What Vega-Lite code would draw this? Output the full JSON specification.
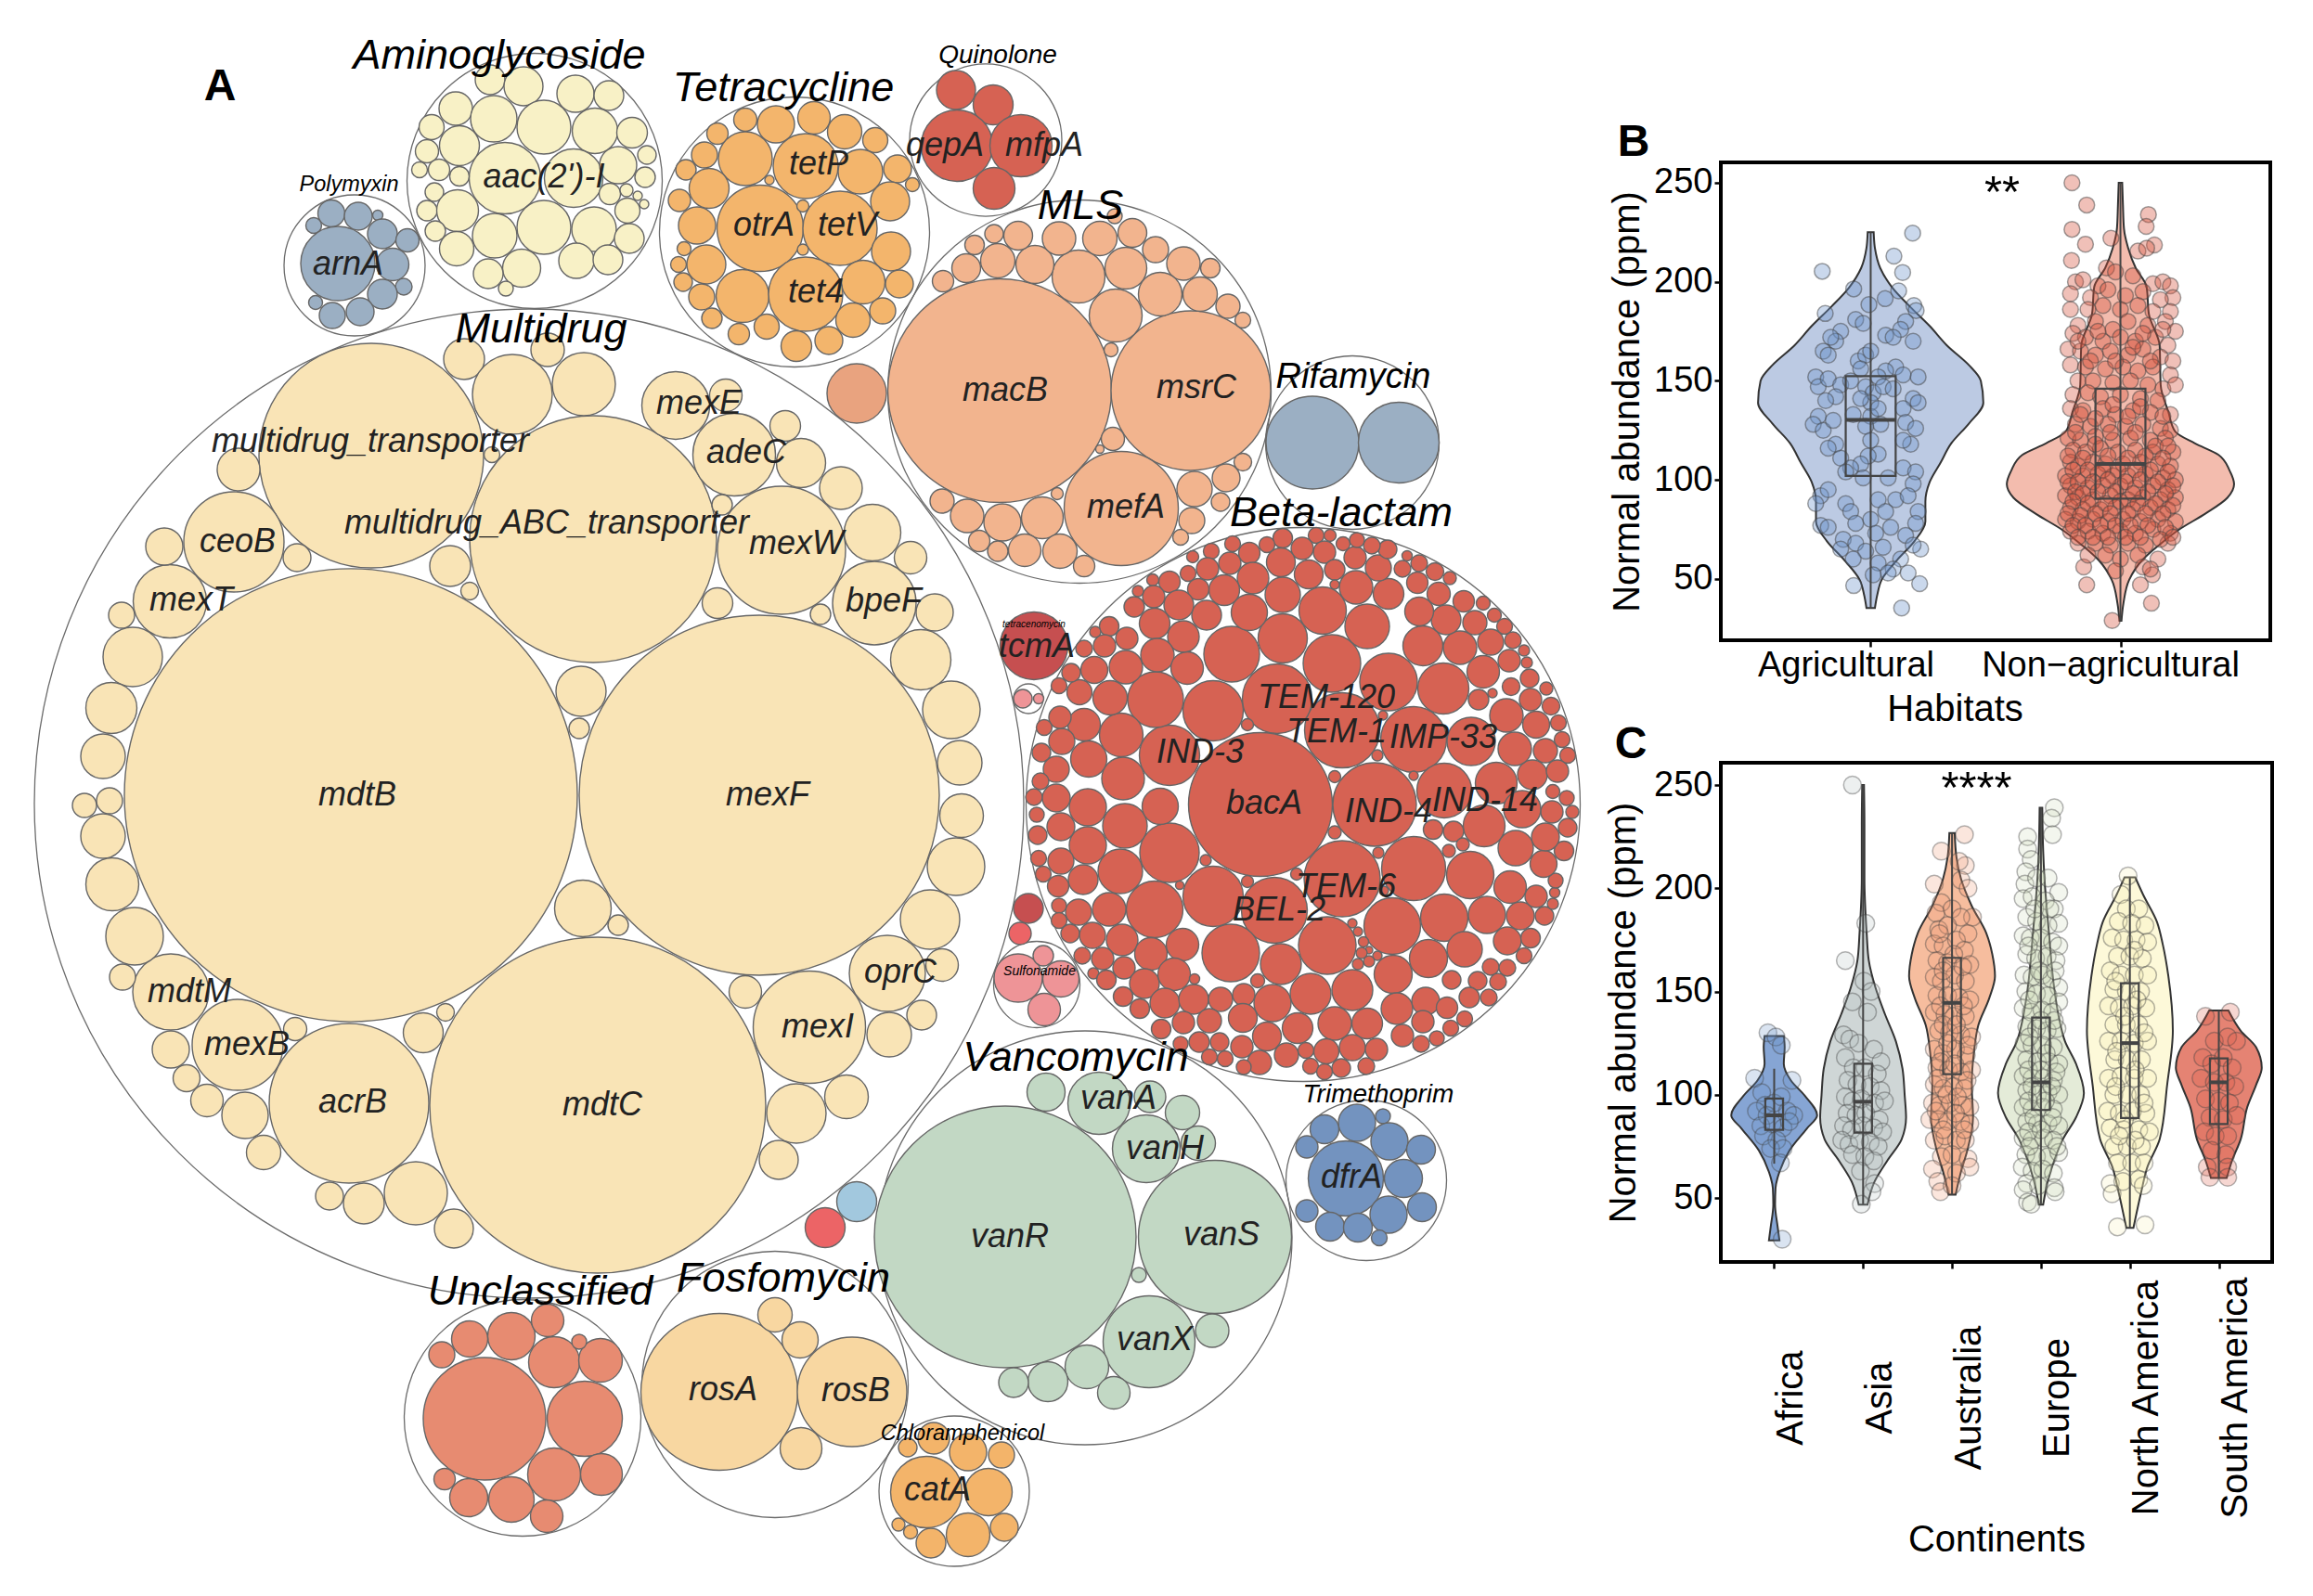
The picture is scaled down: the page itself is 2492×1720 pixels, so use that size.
{"$schema":"https://vega.github.io/schema/vega-lite/v6.json","padding":0,"background":"white","bounds":"flush","spacing":0,"config":{"font":"Liberation Sans","view":{"stroke":null},"axis":{"labelFont":"Liberation Sans","titleFont":"Liberation Sans"}},
"datasets":{
"outer":[{"x":570,"y":866,"d":1066},{"x":1404,"y":867,"d":597},{"x":576,"y":195,"d":275},{"x":382,"y":286,"d":152},{"x":856,"y":250,"d":291},{"x":1062,"y":151,"d":164},{"x":1163,"y":422,"d":413},{"x":1457,"y":477,"d":187},{"x":1169,"y":1334,"d":446},{"x":563,"y":1528,"d":255},{"x":835,"y":1492,"d":287},{"x":1028,"y":1607,"d":162},{"x":1472,"y":1272,"d":173},{"x":1108,"y":753,"d":32},{"x":1117,"y":1061,"d":93}],
"circles":[
{"x":378,"y":857,"d":488,"g":"M"},{"x":818,"y":857,"d":388,"g":"M"},{"x":644,"y":1191,"d":362,"g":"M"},{"x":639,"y":581,"d":266,"g":"M"},{"x":400,"y":491,"d":242,"g":"M"},{"x":376,"y":1189,"d":172,"g":"M"},{"x":256,"y":1126,"d":98,"g":"M"},{"x":184,"y":1069,"d":82,"g":"M"},{"x":252,"y":584,"d":108,"g":"M"},{"x":183,"y":648,"d":79,"g":"M"},{"x":842,"y":593,"d":138,"g":"M"},{"x":728,"y":437,"d":73,"g":"M"},{"x":791,"y":490,"d":89,"g":"M"},{"x":942,"y":650,"d":90,"g":"M"},{"x":956,"y":1049,"d":82,"g":"M"},{"x":872,"y":1107,"d":121,"g":"M"},
{"x":500,"y":387,"d":44,"g":"M"},{"x":552,"y":425,"d":86,"g":"M"},{"x":629,"y":414,"d":68,"g":"M"},{"x":590,"y":377,"d":36,"g":"M"},{"x":257,"y":506,"d":46,"g":"M"},{"x":782,"y":426,"d":35,"g":"M"},{"x":846,"y":459,"d":33,"g":"M"},{"x":863,"y":499,"d":53,"g":"M"},{"x":906,"y":526,"d":46,"g":"M"},{"x":778,"y":544,"d":22,"g":"M"},{"x":940,"y":574,"d":61,"g":"M"},{"x":981,"y":601,"d":35,"g":"M"},{"x":773,"y":650,"d":33,"g":"M"},{"x":884,"y":662,"d":22,"g":"M"},{"x":1007,"y":660,"d":40,"g":"M"},{"x":992,"y":711,"d":65,"g":"M"},{"x":1025,"y":765,"d":62,"g":"M"},{"x":1034,"y":822,"d":48,"g":"M"},{"x":1036,"y":879,"d":47,"g":"M"},{"x":1030,"y":934,"d":62,"g":"M"},{"x":1002,"y":991,"d":64,"g":"M"},{"x":1015,"y":1040,"d":35,"g":"M"},{"x":993,"y":1094,"d":32,"g":"M"},{"x":958,"y":1115,"d":48,"g":"M"},{"x":912,"y":1182,"d":47,"g":"M"},{"x":858,"y":1200,"d":64,"g":"M"},{"x":839,"y":1250,"d":42,"g":"M"},{"x":803,"y":1069,"d":35,"g":"M"},{"x":626,"y":745,"d":54,"g":"M"},{"x":624,"y":785,"d":22,"g":"M"},{"x":628,"y":979,"d":61,"g":"M"},{"x":666,"y":997,"d":22,"g":"M"},{"x":485,"y":610,"d":44,"g":"M"},{"x":506,"y":637,"d":19,"g":"M"},{"x":320,"y":601,"d":30,"g":"M"},{"x":177,"y":589,"d":40,"g":"M"},{"x":131,"y":663,"d":28,"g":"M"},{"x":143,"y":708,"d":64,"g":"M"},{"x":120,"y":763,"d":55,"g":"M"},{"x":111,"y":815,"d":48,"g":"M"},{"x":118,"y":863,"d":28,"g":"M"},{"x":91,"y":868,"d":26,"g":"M"},{"x":111,"y":901,"d":48,"g":"M"},{"x":121,"y":953,"d":57,"g":"M"},{"x":145,"y":1009,"d":62,"g":"M"},{"x":132,"y":1053,"d":28,"g":"M"},{"x":184,"y":1131,"d":40,"g":"M"},{"x":201,"y":1162,"d":29,"g":"M"},{"x":223,"y":1186,"d":35,"g":"M"},{"x":264,"y":1202,"d":50,"g":"M"},{"x":284,"y":1242,"d":37,"g":"M"},{"x":318,"y":1109,"d":25,"g":"M"},{"x":456,"y":1113,"d":43,"g":"M"},{"x":480,"y":1091,"d":19,"g":"M"},{"x":355,"y":1289,"d":30,"g":"M"},{"x":392,"y":1297,"d":44,"g":"M"},{"x":448,"y":1286,"d":68,"g":"M"},{"x":489,"y":1324,"d":42,"g":"M"},{"x":530,"y":490,"d":17,"g":"M"},
{"x":923,"y":424,"d":64,"g":"O"},{"x":923,"y":1295,"d":43,"g":"A"},{"x":889,"y":1323,"d":43,"g":"E"},
{"x":1358,"y":867,"d":155,"g":"B"},{"x":1481,"y":867,"d":90,"g":"B"},{"x":1446,"y":787,"d":81,"g":"B"},{"x":1376,"y":753,"d":75,"g":"B"},{"x":1523,"y":797,"d":71,"g":"B"},{"x":1260,"y":814,"d":65,"g":"B"},{"x":1373,"y":981,"d":71,"g":"B"},{"x":1446,"y":947,"d":82,"g":"B"},{"x":1556,"y":852,"d":59,"g":"B"},{"x":1307,"y":766,"d":65,"g":"B"},{"x":1245,"y":754,"d":60,"g":"B"},{"x":1327,"y":705,"d":60,"g":"B"},{"x":1382,"y":688,"d":53,"g":"B"},{"x":1435,"y":715,"d":62,"g":"B"},{"x":1425,"y":658,"d":51,"g":"B"},{"x":1473,"y":675,"d":48,"g":"B"},{"x":1496,"y":735,"d":62,"g":"B"},{"x":1555,"y":742,"d":55,"g":"B"},{"x":1533,"y":696,"d":43,"g":"B"},{"x":1573,"y":698,"d":36,"g":"B"},{"x":1585,"y":799,"d":52,"g":"B"},{"x":1612,"y":844,"d":45,"g":"B"},{"x":1599,"y":890,"d":45,"g":"B"},{"x":1523,"y":936,"d":69,"g":"B"},{"x":1584,"y":943,"d":51,"g":"B"},{"x":1500,"y":998,"d":61,"g":"B"},{"x":1556,"y":989,"d":51,"g":"B"},{"x":1602,"y":986,"d":40,"g":"B"},{"x":1627,"y":956,"d":35,"g":"B"},{"x":1430,"y":1019,"d":62,"g":"B"},{"x":1326,"y":1027,"d":62,"g":"B"},{"x":1380,"y":1039,"d":44,"g":"B"},{"x":1307,"y":966,"d":65,"g":"B"},{"x":1244,"y":980,"d":61,"g":"B"},{"x":1207,"y":939,"d":48,"g":"B"},{"x":1260,"y":919,"d":64,"g":"B"},{"x":1212,"y":890,"d":48,"g":"B"},{"x":1172,"y":911,"d":40,"g":"B"},{"x":1172,"y":870,"d":40,"g":"B"},{"x":1250,"y":869,"d":39,"g":"B"},{"x":1210,"y":839,"d":46,"g":"B"},{"x":1208,"y":792,"d":47,"g":"B"},{"x":1173,"y":818,"d":39,"g":"B"},{"x":1168,"y":781,"d":35,"g":"B"},{"x":1196,"y":752,"d":37,"g":"B"},{"x":1163,"y":746,"d":27,"g":"B"},{"x":1138,"y":829,"d":28,"g":"B"},{"x":1144,"y":799,"d":28,"g":"B"},{"x":1142,"y":773,"d":24,"g":"B"},{"x":1125,"y":784,"d":17,"g":"B"},{"x":1122,"y":811,"d":20,"g":"B"},{"x":1121,"y":842,"d":18,"g":"B"},{"x":1114,"y":859,"d":18,"g":"B"},{"x":1138,"y":860,"d":30,"g":"B"},{"x":1117,"y":878,"d":16,"g":"B"},{"x":1143,"y":891,"d":30,"g":"B"},{"x":1118,"y":900,"d":20,"g":"B"},{"x":1143,"y":928,"d":28,"g":"B"},{"x":1119,"y":925,"d":17,"g":"B"},{"x":1124,"y":942,"d":17,"g":"B"},{"x":1167,"y":948,"d":32,"g":"B"},{"x":1140,"y":955,"d":23,"g":"B"},{"x":1141,"y":976,"d":16,"g":"B"},{"x":1162,"y":983,"d":28,"g":"B"},{"x":1195,"y":980,"d":36,"g":"B"},{"x":1141,"y":992,"d":17,"g":"B"},{"x":1153,"y":1006,"d":20,"g":"B"},{"x":1177,"y":1008,"d":28,"g":"B"},{"x":1209,"y":1013,"d":34,"g":"B"},{"x":1166,"y":1030,"d":18,"g":"B"},{"x":1188,"y":1033,"d":24,"g":"B"},{"x":1240,"y":1028,"d":35,"g":"B"},{"x":1274,"y":1018,"d":35,"g":"B"},{"x":1211,"y":1043,"d":24,"g":"B"},{"x":1178,"y":1049,"d":12,"g":"B"},{"x":1192,"y":1056,"d":21,"g":"B"},{"x":1233,"y":1060,"d":32,"g":"B"},{"x":1265,"y":1050,"d":35,"g":"B"},{"x":1287,"y":1055,"d":11,"g":"B"},{"x":1210,"y":1074,"d":21,"g":"B"},{"x":1228,"y":1087,"d":21,"g":"B"},{"x":1255,"y":1081,"d":32,"g":"B"},{"x":1286,"y":1077,"d":32,"g":"B"},{"x":1315,"y":1077,"d":26,"g":"B"},{"x":1340,"y":1072,"d":24,"g":"B"},{"x":1355,"y":1057,"d":15,"g":"B"},{"x":1371,"y":1081,"d":40,"g":"B"},{"x":1412,"y":1071,"d":44,"g":"B"},{"x":1457,"y":1067,"d":44,"g":"B"},{"x":1501,"y":1050,"d":41,"g":"B"},{"x":1539,"y":1033,"d":41,"g":"B"},{"x":1578,"y":1023,"d":38,"g":"B"},{"x":1536,"y":1079,"d":30,"g":"B"},{"x":1505,"y":1087,"d":34,"g":"B"},{"x":1564,"y":1056,"d":20,"g":"B"},{"x":1592,"y":1057,"d":20,"g":"B"},{"x":1606,"y":1042,"d":18,"g":"B"},{"x":1624,"y":1043,"d":18,"g":"B"},{"x":1614,"y":1058,"d":18,"g":"B"},{"x":1604,"y":1075,"d":18,"g":"B"},{"x":1583,"y":1075,"d":22,"g":"B"},{"x":1559,"y":1086,"d":23,"g":"B"},{"x":1578,"y":1098,"d":17,"g":"B"},{"x":1563,"y":1108,"d":17,"g":"B"},{"x":1533,"y":1101,"d":24,"g":"B"},{"x":1548,"y":1119,"d":16,"g":"B"},{"x":1531,"y":1125,"d":18,"g":"B"},{"x":1511,"y":1116,"d":24,"g":"B"},{"x":1473,"y":1103,"d":33,"g":"B"},{"x":1438,"y":1103,"d":36,"g":"B"},{"x":1398,"y":1108,"d":33,"g":"B"},{"x":1365,"y":1117,"d":31,"g":"B"},{"x":1339,"y":1097,"d":31,"g":"B"},{"x":1303,"y":1100,"d":26,"g":"B"},{"x":1275,"y":1102,"d":24,"g":"B"},{"x":1251,"y":1109,"d":21,"g":"B"},{"x":1272,"y":1125,"d":16,"g":"B"},{"x":1292,"y":1123,"d":22,"g":"B"},{"x":1314,"y":1123,"d":20,"g":"B"},{"x":1338,"y":1128,"d":24,"g":"B"},{"x":1303,"y":1139,"d":17,"g":"B"},{"x":1320,"y":1141,"d":17,"g":"B"},{"x":1357,"y":1145,"d":26,"g":"B"},{"x":1340,"y":1150,"d":16,"g":"B"},{"x":1386,"y":1137,"d":26,"g":"B"},{"x":1407,"y":1132,"d":17,"g":"B"},{"x":1429,"y":1133,"d":27,"g":"B"},{"x":1457,"y":1129,"d":28,"g":"B"},{"x":1483,"y":1131,"d":24,"g":"B"},{"x":1412,"y":1149,"d":17,"g":"B"},{"x":1445,"y":1151,"d":20,"g":"B"},{"x":1427,"y":1155,"d":17,"g":"B"},{"x":1472,"y":1149,"d":18,"g":"B"},{"x":1457,"y":995,"d":10,"g":"B"},{"x":1463,"y":1004,"d":10,"g":"B"},{"x":1469,"y":1015,"d":11,"g":"B"},{"x":1475,"y":1024,"d":8,"g":"B"},{"x":1467,"y":1027,"d":12,"g":"B"},{"x":1484,"y":1030,"d":10,"g":"B"},{"x":1475,"y":1036,"d":12,"g":"B"},{"x":1463,"y":1039,"d":12,"g":"B"},{"x":1624,"y":1014,"d":30,"g":"B"},{"x":1649,"y":1011,"d":21,"g":"B"},{"x":1642,"y":1030,"d":17,"g":"B"},{"x":1664,"y":987,"d":20,"g":"B"},{"x":1638,"y":987,"d":30,"g":"B"},{"x":1655,"y":966,"d":24,"g":"B"},{"x":1673,"y":974,"d":12,"g":"B"},{"x":1675,"y":962,"d":11,"g":"B"},{"x":1676,"y":949,"d":16,"g":"B"},{"x":1663,"y":931,"d":29,"g":"B"},{"x":1685,"y":917,"d":21,"g":"B"},{"x":1633,"y":914,"d":38,"g":"B"},{"x":1665,"y":902,"d":30,"g":"B"},{"x":1689,"y":892,"d":20,"g":"B"},{"x":1694,"y":875,"d":14,"g":"B"},{"x":1688,"y":860,"d":16,"g":"B"},{"x":1673,"y":853,"d":15,"g":"B"},{"x":1672,"y":875,"d":24,"g":"B"},{"x":1640,"y":872,"d":40,"g":"B"},{"x":1651,"y":835,"d":32,"g":"B"},{"x":1678,"y":831,"d":24,"g":"B"},{"x":1632,"y":807,"d":36,"g":"B"},{"x":1665,"y":809,"d":26,"g":"B"},{"x":1689,"y":814,"d":17,"g":"B"},{"x":1683,"y":797,"d":17,"g":"B"},{"x":1655,"y":781,"d":29,"g":"B"},{"x":1679,"y":779,"d":17,"g":"B"},{"x":1623,"y":771,"d":36,"g":"B"},{"x":1671,"y":761,"d":19,"g":"B"},{"x":1649,"y":754,"d":24,"g":"B"},{"x":1666,"y":742,"d":14,"g":"B"},{"x":1628,"y":740,"d":19,"g":"B"},{"x":1648,"y":731,"d":20,"g":"B"},{"x":1593,"y":754,"d":22,"g":"B"},{"x":1608,"y":747,"d":10,"g":"B"},{"x":1598,"y":724,"d":35,"g":"B"},{"x":1626,"y":712,"d":24,"g":"B"},{"x":1645,"y":714,"d":12,"g":"B"},{"x":1642,"y":701,"d":12,"g":"B"},{"x":1630,"y":690,"d":18,"g":"B"},{"x":1606,"y":692,"d":28,"g":"B"},{"x":1621,"y":675,"d":17,"g":"B"},{"x":1610,"y":663,"d":15,"g":"B"},{"x":1589,"y":671,"d":26,"g":"B"},{"x":1558,"y":668,"d":32,"g":"B"},{"x":1598,"y":650,"d":15,"g":"B"},{"x":1577,"y":648,"d":23,"g":"B"},{"x":1529,"y":659,"d":31,"g":"B"},{"x":1550,"y":640,"d":25,"g":"B"},{"x":1527,"y":628,"d":23,"g":"B"},{"x":1562,"y":623,"d":14,"g":"B"},{"x":1546,"y":616,"d":19,"g":"B"},{"x":1529,"y":607,"d":18,"g":"B"},{"x":1511,"y":613,"d":18,"g":"B"},{"x":1516,"y":599,"d":11,"g":"B"},{"x":1496,"y":640,"d":33,"g":"B"},{"x":1461,"y":633,"d":36,"g":"B"},{"x":1485,"y":612,"d":28,"g":"B"},{"x":1460,"y":601,"d":24,"g":"B"},{"x":1495,"y":592,"d":20,"g":"B"},{"x":1478,"y":588,"d":18,"g":"B"},{"x":1462,"y":582,"d":16,"g":"B"},{"x":1447,"y":586,"d":15,"g":"B"},{"x":1433,"y":577,"d":13,"g":"B"},{"x":1418,"y":577,"d":17,"g":"B"},{"x":1427,"y":595,"d":24,"g":"B"},{"x":1403,"y":591,"d":24,"g":"B"},{"x":1382,"y":580,"d":21,"g":"B"},{"x":1365,"y":587,"d":17,"g":"B"},{"x":1380,"y":606,"d":31,"g":"B"},{"x":1438,"y":614,"d":22,"g":"B"},{"x":1438,"y":630,"d":10,"g":"B"},{"x":1410,"y":619,"d":31,"g":"B"},{"x":1382,"y":641,"d":38,"g":"B"},{"x":1346,"y":596,"d":23,"g":"B"},{"x":1328,"y":586,"d":17,"g":"B"},{"x":1305,"y":594,"d":17,"g":"B"},{"x":1325,"y":607,"d":24,"g":"B"},{"x":1350,"y":623,"d":34,"g":"B"},{"x":1301,"y":613,"d":24,"g":"B"},{"x":1285,"y":600,"d":13,"g":"B"},{"x":1280,"y":618,"d":17,"g":"B"},{"x":1319,"y":636,"d":33,"g":"B"},{"x":1291,"y":635,"d":23,"g":"B"},{"x":1260,"y":627,"d":23,"g":"B"},{"x":1242,"y":625,"d":13,"g":"B"},{"x":1346,"y":660,"d":39,"g":"B"},{"x":1300,"y":663,"d":32,"g":"B"},{"x":1270,"y":652,"d":32,"g":"B"},{"x":1243,"y":643,"d":24,"g":"B"},{"x":1226,"y":637,"d":12,"g":"B"},{"x":1222,"y":654,"d":22,"g":"B"},{"x":1244,"y":672,"d":33,"g":"B"},{"x":1275,"y":686,"d":34,"g":"B"},{"x":1195,"y":675,"d":21,"g":"B"},{"x":1214,"y":688,"d":24,"g":"B"},{"x":1180,"y":681,"d":12,"g":"B"},{"x":1190,"y":696,"d":24,"g":"B"},{"x":1168,"y":699,"d":18,"g":"B"},{"x":1247,"y":706,"d":36,"g":"B"},{"x":1279,"y":720,"d":35,"g":"B"},{"x":1213,"y":719,"d":36,"g":"B"},{"x":1179,"y":722,"d":29,"g":"B"},{"x":1154,"y":725,"d":20,"g":"B"},{"x":1141,"y":739,"d":17,"g":"B"},{"x":1344,"y":781,"d":13,"g":"B"},{"x":1438,"y":837,"d":13,"g":"B"},{"x":1484,"y":814,"d":12,"g":"B"},{"x":1523,"y":836,"d":10,"g":"B"},{"x":1490,"y":771,"d":10,"g":"B"},{"x":1438,"y":897,"d":14,"g":"B"},{"x":1485,"y":919,"d":12,"g":"B"},{"x":1544,"y":894,"d":21,"g":"B"},{"x":1566,"y":896,"d":22,"g":"B"},{"x":1576,"y":910,"d":14,"g":"B"},{"x":1561,"y":917,"d":14,"g":"B"},{"x":1299,"y":927,"d":12,"g":"B"},{"x":1271,"y":954,"d":9,"g":"B"},{"x":1344,"y":950,"d":13,"g":"B"},{"x":1397,"y":942,"d":13,"g":"B"},{"x":1491,"y":960,"d":10,"g":"B"},
{"x":528,"y":86,"d":32,"g":"G"},{"x":564,"y":93,"d":42,"g":"G"},{"x":620,"y":101,"d":40,"g":"G"},{"x":656,"y":103,"d":32,"g":"G"},{"x":491,"y":117,"d":36,"g":"G"},{"x":465,"y":137,"d":27,"g":"G"},{"x":532,"y":128,"d":50,"g":"G"},{"x":586,"y":137,"d":58,"g":"G"},{"x":641,"y":141,"d":49,"g":"G"},{"x":681,"y":143,"d":33,"g":"G"},{"x":495,"y":157,"d":43,"g":"G"},{"x":460,"y":163,"d":25,"g":"G"},{"x":544,"y":192,"d":77,"g":"G"},{"x":618,"y":192,"d":63,"g":"G"},{"x":666,"y":178,"d":40,"g":"G"},{"x":697,"y":167,"d":20,"g":"G"},{"x":695,"y":191,"d":22,"g":"G"},{"x":452,"y":183,"d":17,"g":"G"},{"x":473,"y":183,"d":23,"g":"G"},{"x":495,"y":190,"d":21,"g":"G"},{"x":468,"y":207,"d":20,"g":"G"},{"x":460,"y":227,"d":22,"g":"G"},{"x":493,"y":227,"d":45,"g":"G"},{"x":657,"y":209,"d":23,"g":"G"},{"x":675,"y":205,"d":14,"g":"G"},{"x":687,"y":211,"d":10,"g":"G"},{"x":694,"y":220,"d":10,"g":"G"},{"x":676,"y":227,"d":27,"g":"G"},{"x":586,"y":245,"d":58,"g":"G"},{"x":640,"y":247,"d":48,"g":"G"},{"x":533,"y":254,"d":48,"g":"G"},{"x":678,"y":257,"d":32,"g":"G"},{"x":469,"y":249,"d":22,"g":"G"},{"x":492,"y":268,"d":37,"g":"G"},{"x":621,"y":281,"d":38,"g":"G"},{"x":655,"y":280,"d":32,"g":"G"},{"x":562,"y":289,"d":41,"g":"G"},{"x":526,"y":295,"d":32,"g":"G"},{"x":545,"y":311,"d":16,"g":"G"},
{"x":357,"y":230,"d":29,"g":"P"},{"x":386,"y":233,"d":30,"g":"P"},{"x":407,"y":232,"d":11,"g":"P"},{"x":338,"y":243,"d":17,"g":"P"},{"x":364,"y":284,"d":80,"g":"P"},{"x":412,"y":252,"d":32,"g":"P"},{"x":439,"y":259,"d":25,"g":"P"},{"x":423,"y":285,"d":35,"g":"P"},{"x":435,"y":309,"d":18,"g":"P"},{"x":412,"y":317,"d":32,"g":"P"},{"x":340,"y":326,"d":15,"g":"P"},{"x":358,"y":340,"d":28,"g":"P"},{"x":388,"y":336,"d":30,"g":"P"},
{"x":877,"y":127,"d":35,"g":"T"},{"x":836,"y":134,"d":40,"g":"T"},{"x":803,"y":129,"d":25,"g":"T"},{"x":773,"y":144,"d":23,"g":"T"},{"x":910,"y":142,"d":37,"g":"T"},{"x":943,"y":151,"d":27,"g":"T"},{"x":759,"y":167,"d":28,"g":"T"},{"x":803,"y":171,"d":58,"g":"T"},{"x":868,"y":179,"d":70,"g":"T"},{"x":927,"y":185,"d":48,"g":"T"},{"x":967,"y":182,"d":30,"g":"T"},{"x":983,"y":199,"d":15,"g":"T"},{"x":739,"y":183,"d":22,"g":"T"},{"x":764,"y":203,"d":43,"g":"T"},{"x":829,"y":194,"d":10,"g":"T"},{"x":732,"y":216,"d":24,"g":"T"},{"x":751,"y":243,"d":40,"g":"T"},{"x":819,"y":246,"d":93,"g":"T"},{"x":905,"y":246,"d":80,"g":"T"},{"x":865,"y":222,"d":13,"g":"T"},{"x":959,"y":217,"d":42,"g":"T"},{"x":865,"y":269,"d":12,"g":"T"},{"x":960,"y":271,"d":42,"g":"T"},{"x":737,"y":268,"d":15,"g":"T"},{"x":761,"y":285,"d":42,"g":"T"},{"x":731,"y":285,"d":17,"g":"T"},{"x":930,"y":304,"d":47,"g":"T"},{"x":736,"y":304,"d":20,"g":"T"},{"x":969,"y":306,"d":30,"g":"T"},{"x":800,"y":319,"d":57,"g":"T"},{"x":868,"y":317,"d":80,"g":"T"},{"x":756,"y":320,"d":28,"g":"T"},{"x":951,"y":335,"d":28,"g":"T"},{"x":919,"y":345,"d":37,"g":"T"},{"x":767,"y":343,"d":22,"g":"T"},{"x":826,"y":352,"d":27,"g":"T"},{"x":796,"y":360,"d":23,"g":"T"},{"x":858,"y":373,"d":33,"g":"T"},{"x":893,"y":367,"d":30,"g":"T"},
{"x":1030,"y":97,"d":42,"g":"Q"},{"x":1070,"y":113,"d":43,"g":"Q"},{"x":1031,"y":157,"d":77,"g":"Q"},{"x":1100,"y":157,"d":67,"g":"Q"},{"x":1071,"y":203,"d":45,"g":"Q"},
{"x":1077,"y":421,"d":241,"g":"L"},{"x":1283,"y":421,"d":172,"g":"L"},{"x":1208,"y":548,"d":123,"g":"L"},{"x":1162,"y":298,"d":57,"g":"L"},{"x":1202,"y":340,"d":57,"g":"L"},{"x":1213,"y":289,"d":45,"g":"L"},{"x":1115,"y":285,"d":41,"g":"L"},{"x":1075,"y":281,"d":37,"g":"L"},{"x":1041,"y":289,"d":31,"g":"L"},{"x":1016,"y":303,"d":23,"g":"L"},{"x":1050,"y":264,"d":21,"g":"L"},{"x":1071,"y":252,"d":20,"g":"L"},{"x":1097,"y":254,"d":31,"g":"L"},{"x":1141,"y":257,"d":36,"g":"L"},{"x":1185,"y":257,"d":37,"g":"L"},{"x":1220,"y":251,"d":31,"g":"L"},{"x":1201,"y":233,"d":16,"g":"L"},{"x":1245,"y":269,"d":28,"g":"L"},{"x":1275,"y":284,"d":36,"g":"L"},{"x":1304,"y":289,"d":21,"g":"L"},{"x":1250,"y":317,"d":47,"g":"L"},{"x":1293,"y":317,"d":37,"g":"L"},{"x":1323,"y":330,"d":26,"g":"L"},{"x":1339,"y":345,"d":17,"g":"L"},{"x":1197,"y":377,"d":15,"g":"L"},{"x":1199,"y":473,"d":25,"g":"L"},{"x":1185,"y":484,"d":9,"g":"L"},{"x":1339,"y":498,"d":19,"g":"L"},{"x":1321,"y":515,"d":30,"g":"L"},{"x":1287,"y":527,"d":38,"g":"L"},{"x":1315,"y":541,"d":20,"g":"L"},{"x":1284,"y":561,"d":28,"g":"L"},{"x":1272,"y":579,"d":17,"g":"L"},{"x":1015,"y":540,"d":26,"g":"L"},{"x":1042,"y":556,"d":36,"g":"L"},{"x":1080,"y":563,"d":40,"g":"L"},{"x":1123,"y":558,"d":45,"g":"L"},{"x":1139,"y":532,"d":13,"g":"L"},{"x":1055,"y":583,"d":23,"g":"L"},{"x":1075,"y":594,"d":22,"g":"L"},{"x":1104,"y":593,"d":35,"g":"L"},{"x":1142,"y":594,"d":37,"g":"L"},{"x":1168,"y":610,"d":23,"g":"L"},
{"x":1414,"y":477,"d":100,"g":"P"},{"x":1507,"y":477,"d":87,"g":"P"},
{"x":1114,"y":696,"d":73,"g":"K"},{"x":1102,"y":753,"d":20,"g":"S"},{"x":1119,"y":753,"d":11,"g":"S"},{"x":1108,"y":979,"d":32,"g":"K"},{"x":1099,"y":1006,"d":24,"g":"E"},{"x":1097,"y":1054,"d":52,"g":"S"},{"x":1143,"y":1055,"d":39,"g":"S"},{"x":1124,"y":1030,"d":22,"g":"S"},{"x":1125,"y":1088,"d":35,"g":"S"},
{"x":1083,"y":1333,"d":282,"g":"V"},{"x":1309,"y":1333,"d":165,"g":"V"},{"x":1238,"y":1446,"d":99,"g":"V"},{"x":1235,"y":1238,"d":73,"g":"V"},{"x":1127,"y":1177,"d":41,"g":"V"},{"x":1239,"y":1182,"d":34,"g":"V"},{"x":1184,"y":1189,"d":67,"g":"V"},{"x":1274,"y":1199,"d":37,"g":"V"},{"x":1291,"y":1232,"d":37,"g":"V"},{"x":1227,"y":1374,"d":16,"g":"V"},{"x":1306,"y":1434,"d":36,"g":"V"},{"x":1171,"y":1473,"d":47,"g":"V"},{"x":1129,"y":1489,"d":43,"g":"V"},{"x":1092,"y":1490,"d":32,"g":"V"},{"x":1200,"y":1501,"d":35,"g":"V"},
{"x":522,"y":1529,"d":132,"g":"U"},{"x":630,"y":1529,"d":81,"g":"U"},{"x":597,"y":1468,"d":55,"g":"U"},{"x":647,"y":1466,"d":47,"g":"U"},{"x":551,"y":1440,"d":51,"g":"U"},{"x":506,"y":1443,"d":39,"g":"U"},{"x":476,"y":1460,"d":28,"g":"U"},{"x":590,"y":1423,"d":35,"g":"U"},{"x":624,"y":1446,"d":16,"g":"U"},{"x":597,"y":1589,"d":57,"g":"U"},{"x":648,"y":1589,"d":45,"g":"U"},{"x":505,"y":1614,"d":41,"g":"U"},{"x":551,"y":1616,"d":49,"g":"U"},{"x":479,"y":1594,"d":23,"g":"U"},{"x":589,"y":1634,"d":35,"g":"U"},
{"x":775,"y":1500,"d":169,"g":"F"},{"x":918,"y":1500,"d":118,"g":"F"},{"x":835,"y":1417,"d":37,"g":"F"},{"x":862,"y":1444,"d":39,"g":"F"},{"x":863,"y":1561,"d":45,"g":"F"},
{"x":998,"y":1608,"d":77,"g":"C"},{"x":1065,"y":1608,"d":51,"g":"C"},{"x":1043,"y":1565,"d":40,"g":"C"},{"x":1006,"y":1550,"d":34,"g":"C"},{"x":978,"y":1560,"d":20,"g":"C"},{"x":1079,"y":1568,"d":28,"g":"C"},{"x":1043,"y":1654,"d":47,"g":"C"},{"x":1082,"y":1646,"d":30,"g":"C"},{"x":1003,"y":1663,"d":32,"g":"C"},{"x":981,"y":1651,"d":15,"g":"C"},{"x":968,"y":1643,"d":14,"g":"C"},
{"x":1450,"y":1270,"d":81,"g":"R"},{"x":1462,"y":1210,"d":40,"g":"R"},{"x":1427,"y":1217,"d":31,"g":"R"},{"x":1490,"y":1203,"d":16,"g":"R"},{"x":1497,"y":1230,"d":40,"g":"R"},{"x":1408,"y":1236,"d":24,"g":"R"},{"x":1531,"y":1239,"d":31,"g":"R"},{"x":1512,"y":1270,"d":41,"g":"R"},{"x":1532,"y":1301,"d":31,"g":"R"},{"x":1496,"y":1309,"d":40,"g":"R"},{"x":1408,"y":1305,"d":24,"g":"R"},{"x":1433,"y":1322,"d":31,"g":"R"},{"x":1463,"y":1323,"d":31,"g":"R"},{"x":1486,"y":1334,"d":17,"g":"R"}
],
"genes":[{"t":"mdtB","x":385,"y":857},{"t":"mexF","x":827,"y":857},{"t":"mdtC","x":649,"y":1191},{"t":"acrB","x":380,"y":1188},{"t":"mexB","x":266,"y":1126},{"t":"mdtM","x":204,"y":1069},{"t":"ceoB","x":256,"y":584},{"t":"mexT","x":206,"y":647},{"t":"multidrug_transporter","x":399,"y":476},{"t":"multidrug_ABC_transporter","x":589,"y":564},{"t":"mexE","x":753,"y":435},{"t":"adeC","x":804,"y":488},{"t":"mexW","x":858,"y":586},{"t":"bpeF","x":952,"y":648},{"t":"oprC","x":970,"y":1048},{"t":"mexI","x":881,"y":1107},{"t":"macB","x":1083,"y":421},{"t":"msrC","x":1289,"y":418},{"t":"mefA","x":1213,"y":547},{"t":"bacA","x":1362,"y":866},{"t":"IND-3","x":1293,"y":811},{"t":"TEM-120","x":1429,"y":752},{"t":"TEM-1","x":1440,"y":789},{"t":"IMP-33","x":1555,"y":795},{"t":"IND-4","x":1496,"y":875},{"t":"IND-14","x":1600,"y":863},{"t":"TEM-6","x":1450,"y":956},{"t":"BEL-2","x":1378,"y":981},{"t":"tcmA","x":1117,"y":697},{"t":"aac(2')-I","x":586,"y":191},{"t":"arnA","x":375,"y":285},{"t":"tetP","x":882,"y":177},{"t":"otrA","x":823,"y":243},{"t":"tetV","x":913,"y":243},{"t":"tet4","x":879,"y":315},{"t":"qepA","x":1018,"y":157},{"t":"mfpA","x":1125,"y":157},{"t":"vanR","x":1088,"y":1333},{"t":"vanS","x":1316,"y":1331},{"t":"vanX","x":1244,"y":1444},{"t":"vanH","x":1255,"y":1238},{"t":"vanA","x":1205,"y":1184},{"t":"rosA","x":779,"y":1498},{"t":"rosB","x":922,"y":1499},{"t":"catA","x":1010,"y":1606},{"t":"dfrA","x":1456,"y":1269}],
"classes":[{"t":"Aminoglycoside","x":538,"y":60,"k":"a"},{"t":"Tetracycline","x":844,"y":95,"k":"a"},{"t":"Quinolone","x":1075,"y":60,"k":"c"},{"t":"Polymyxin","x":376,"y":199,"k":"d"},{"t":"Multidrug","x":583,"y":355,"k":"a"},{"t":"MLS","x":1164,"y":222,"k":"a"},{"t":"Rifamycin","x":1458,"y":407,"k":"b"},{"t":"Beta-lactam","x":1445,"y":553,"k":"a"},{"t":"Vancomycin","x":1159,"y":1140,"k":"a"},{"t":"Trimethoprim","x":1485,"y":1180,"k":"c"},{"t":"Unclassified","x":582,"y":1392,"k":"a"},{"t":"Fosfomycin","x":844,"y":1378,"k":"a"},{"t":"Chloramphenicol","x":1037,"y":1545,"k":"d"},{"t":"Sulfonamide","x":1120,"y":1047,"k":"e"},{"t":"tetracenomycin","x":1114,"y":673,"k":"f"}],
"letters":[{"t":"A","x":237,"y":94},{"t":"B","x":1760,"y":154},{"t":"C","x":1757,"y":803}],
"bviolin":[
{"g":"A","y":225,"x":0.988,"x2":1.012},{"g":"A","y":217,"x":0.983,"x2":1.017},{"g":"A","y":207,"x":0.962,"x2":1.038},{"g":"A","y":197,"x":0.913,"x2":1.087},{"g":"A","y":187.5,"x":0.843,"x2":1.157},{"g":"A","y":177.7,"x":0.764,"x2":1.236},{"g":"A","y":167.8,"x":0.694,"x2":1.306},{"g":"A","y":158,"x":0.607,"x2":1.393},{"g":"A","y":150,"x":0.559,"x2":1.441},{"g":"A","y":139,"x":0.549,"x2":1.451},{"g":"A","y":128.4,"x":0.607,"x2":1.393},{"g":"A","y":118.5,"x":0.677,"x2":1.323},{"g":"A","y":108.7,"x":0.72,"x2":1.28},{"g":"A","y":98.8,"x":0.764,"x2":1.236},{"g":"A","y":89,"x":0.781,"x2":1.219},{"g":"A","y":79,"x":0.781,"x2":1.219},{"g":"A","y":69,"x":0.825,"x2":1.175},{"g":"A","y":59.4,"x":0.895,"x2":1.105},{"g":"A","y":49.5,"x":0.956,"x2":1.044},{"g":"A","y":41.7,"x":0.974,"x2":1.026},{"g":"A","y":35.3,"x":0.983,"x2":1.017},
{"g":"N","y":250,"x":1.993,"x2":2.007},{"g":"N","y":238.8,"x":1.99,"x2":2.01},{"g":"N","y":227,"x":1.986,"x2":2.014},{"g":"N","y":217,"x":1.969,"x2":2.031},{"g":"N","y":207,"x":1.939,"x2":2.061},{"g":"N","y":197.4,"x":1.895,"x2":2.105},{"g":"N","y":183.6,"x":1.886,"x2":2.114},{"g":"N","y":167.8,"x":1.843,"x2":2.157},{"g":"N","y":148,"x":1.839,"x2":2.161},{"g":"N","y":134.3,"x":1.808,"x2":2.192},{"g":"N","y":124.4,"x":1.781,"x2":2.219},{"g":"N","y":118.5,"x":1.703,"x2":2.297},{"g":"N","y":112.6,"x":1.607,"x2":2.393},{"g":"N","y":104.7,"x":1.563,"x2":2.437},{"g":"N","y":97.8,"x":1.545,"x2":2.455},{"g":"N","y":90.9,"x":1.572,"x2":2.428},{"g":"N","y":83,"x":1.659,"x2":2.341},{"g":"N","y":75,"x":1.764,"x2":2.236},{"g":"N","y":67.3,"x":1.843,"x2":2.157},{"g":"N","y":59.4,"x":1.913,"x2":2.087},{"g":"N","y":49.5,"x":1.965,"x2":2.035},{"g":"N","y":37.7,"x":1.988,"x2":2.012},{"g":"N","y":28.8,"x":1.996,"x2":2.004}],
"bbox":[{"x":0.9,"x2":1.1,"c":1,"y":102,"y2":152.4,"m":130.3,"lo":35.3,"hi":225},{"x":1.9,"x2":2.1,"c":2,"y":90.5,"y2":146,"m":108,"lo":29,"hi":250}],
"bpts":[
{"h":"A","x":1.168,"y":224.6},{"h":"A","x":1.093,"y":213},{"h":"A","x":1.128,"y":204.7},{"h":"A","x":0.806,"y":205.3},{"h":"A","x":0.932,"y":196.4},{"h":"A","x":1.112,"y":195.4},{"h":"A","x":0.818,"y":184},{"h":"A","x":1.173,"y":188},{"h":"A","x":1.182,"y":185.5},{"h":"A","x":1.058,"y":191.5},{"h":"A","x":0.993,"y":188.5},{"h":"A","x":1.196,"y":47.6},{"h":"A","x":1.124,"y":35.3},{"h":"A","x":0.932,"y":46.6},{"h":"A","x":1.2,"y":65},
{"h":"A","x":0.94,"y":181},{"h":"A","x":0.97,"y":179},{"h":"A","x":1.14,"y":180},{"h":"A","x":1.12,"y":176},{"h":"A","x":1.06,"y":173},{"h":"A","x":1.09,"y":172},{"h":"A","x":1.17,"y":170},{"h":"A","x":0.88,"y":175},{"h":"A","x":0.86,"y":170},{"h":"A","x":0.84,"y":172},{"h":"A","x":0.81,"y":165},{"h":"A","x":0.83,"y":163},{"h":"A","x":0.95,"y":160},{"h":"A","x":0.98,"y":163},{"h":"A","x":1.0,"y":165},{"h":"A","x":0.96,"y":156},{"h":"A","x":1.1,"y":157},{"h":"A","x":1.13,"y":153},{"h":"A","x":1.06,"y":155},{"h":"A","x":1.03,"y":152},{"h":"A","x":1.19,"y":152},{"h":"A","x":0.78,"y":152},{"h":"A","x":0.79,"y":147},{"h":"A","x":0.83,"y":151},{"h":"A","x":0.88,"y":148},{"h":"A","x":0.92,"y":150},{"h":"A","x":0.98,"y":147},{"h":"A","x":1.01,"y":144},{"h":"A","x":1.05,"y":147},{"h":"A","x":1.09,"y":146},{"h":"A","x":1.17,"y":141},{"h":"A","x":1.19,"y":139},{"h":"A","x":1.13,"y":136},{"h":"A","x":1.0,"y":139},{"h":"A","x":0.96,"y":141},{"h":"A","x":0.86,"y":142},{"h":"A","x":0.82,"y":140},{"h":"A","x":0.79,"y":132},{"h":"A","x":0.77,"y":128},{"h":"A","x":0.81,"y":125},{"h":"A","x":0.85,"y":130},{"h":"A","x":0.93,"y":133},{"h":"A","x":1.0,"y":132},{"h":"A","x":1.03,"y":136},{"h":"A","x":1.04,"y":128},{"h":"A","x":0.98,"y":127},{"h":"A","x":1.14,"y":129},{"h":"A","x":1.18,"y":126},{"h":"A","x":1.16,"y":118},{"h":"A","x":1.13,"y":120},{"h":"A","x":1.0,"y":120},{"h":"A","x":1.03,"y":113},{"h":"A","x":0.99,"y":112},{"h":"A","x":0.96,"y":108},{"h":"A","x":0.86,"y":118},{"h":"A","x":0.83,"y":116},{"h":"A","x":0.88,"y":111},{"h":"A","x":0.92,"y":106},{"h":"A","x":0.9,"y":104},{"h":"A","x":1.13,"y":106},{"h":"A","x":1.18,"y":104},{"h":"A","x":1.17,"y":98},{"h":"A","x":1.07,"y":101},{"h":"A","x":0.97,"y":101},{"h":"A","x":0.8,"y":92},{"h":"A","x":0.83,"y":95},{"h":"A","x":0.78,"y":88},{"h":"A","x":0.9,"y":88},{"h":"A","x":0.92,"y":84},{"h":"A","x":1.03,"y":90},{"h":"A","x":1.1,"y":90},{"h":"A","x":1.15,"y":92},{"h":"A","x":1.19,"y":84},{"h":"A","x":1.18,"y":78},{"h":"A","x":1.06,"y":84},{"h":"A","x":1.0,"y":80},{"h":"A","x":0.94,"y":78},{"h":"A","x":0.8,"y":77},{"h":"A","x":0.83,"y":76},{"h":"A","x":1.08,"y":76},{"h":"A","x":1.02,"y":73},{"h":"A","x":1.14,"y":72},{"h":"A","x":1.17,"y":67},{"h":"A","x":0.89,"y":70},{"h":"A","x":0.94,"y":68},{"h":"A","x":1.05,"y":66},{"h":"A","x":0.98,"y":64},{"h":"A","x":0.88,"y":65},{"h":"A","x":0.93,"y":60},{"h":"A","x":1.03,"y":58},{"h":"A","x":1.12,"y":60},{"h":"A","x":1.09,"y":55},{"h":"A","x":1.07,"y":53},{"h":"A","x":1.15,"y":53},{"h":"A","x":1.01,"y":52},
{"h":"N","x":1.806,"y":250},{"h":"N","x":1.865,"y":238.8},{"h":"N","x":2.112,"y":234},{"h":"N","x":2.103,"y":228},{"h":"N","x":1.806,"y":226.5},{"h":"N","x":1.86,"y":219},{"h":"N","x":1.962,"y":222},{"h":"N","x":2.136,"y":218.6},{"h":"N","x":2.07,"y":215.5},{"h":"N","x":2.105,"y":217},{"h":"N","x":1.804,"y":210.8},{"h":"N","x":1.944,"y":207},{"h":"N","x":1.967,"y":29},{"h":"N","x":2.124,"y":37.7},{"h":"N","x":1.865,"y":47},{"h":"N","x":1.853,"y":56},{"h":"N","x":2.08,"y":47},{"h":"N","x":2.128,"y":52},
{"h":"N","x":1.82,"y":200},{"h":"N","x":1.85,"y":201},{"h":"N","x":1.91,"y":198},{"h":"N","x":1.98,"y":205},{"h":"N","x":2.05,"y":203},{"h":"N","x":2.13,"y":199},{"h":"N","x":2.17,"y":200},{"h":"N","x":2.2,"y":198},{"h":"N","x":1.8,"y":194},{"h":"N","x":1.88,"y":192},{"h":"N","x":1.95,"y":196},{"h":"N","x":2.02,"y":193},{"h":"N","x":2.09,"y":195},{"h":"N","x":2.21,"y":192},{"h":"N","x":2.16,"y":191},{"h":"N","x":1.8,"y":186},{"h":"N","x":1.87,"y":186},{"h":"N","x":1.93,"y":188},{"h":"N","x":2.0,"y":186},{"h":"N","x":2.07,"y":188},{"h":"N","x":2.13,"y":185},{"h":"N","x":2.2,"y":185},{"h":"N","x":1.83,"y":178},{"h":"N","x":1.9,"y":180},{"h":"N","x":1.97,"y":176},{"h":"N","x":2.03,"y":180},{"h":"N","x":2.11,"y":178},{"h":"N","x":2.18,"y":180},{"h":"N","x":2.22,"y":175},{"h":"N","x":1.81,"y":174},{"h":"N","x":1.86,"y":172},{"h":"N","x":1.93,"y":170},{"h":"N","x":2.0,"y":172},{"h":"N","x":2.06,"y":170},{"h":"N","x":2.14,"y":172},{"h":"N","x":2.19,"y":168},{"h":"N","x":1.79,"y":166},{"h":"N","x":1.84,"y":165},{"h":"N","x":1.9,"y":163},{"h":"N","x":1.96,"y":165},{"h":"N","x":2.03,"y":163},{"h":"N","x":2.09,"y":166},{"h":"N","x":2.16,"y":162},{"h":"N","x":2.21,"y":160},{"h":"N","x":1.8,"y":158},{"h":"N","x":1.86,"y":157},{"h":"N","x":1.94,"y":156},{"h":"N","x":2.01,"y":157},{"h":"N","x":2.07,"y":155},{"h":"N","x":2.13,"y":157},{"h":"N","x":2.2,"y":153},{"h":"N","x":1.83,"y":150},{"h":"N","x":1.89,"y":150},{"h":"N","x":1.97,"y":149},{"h":"N","x":2.04,"y":150},{"h":"N","x":2.11,"y":148},{"h":"N","x":2.17,"y":146},{"h":"N","x":2.22,"y":148},{"h":"N","x":1.81,"y":143},{"h":"N","x":1.87,"y":144},{"h":"N","x":1.92,"y":142},{"h":"N","x":2.0,"y":143},{"h":"N","x":2.08,"y":141},{"h":"N","x":2.15,"y":140},{"h":"N","x":1.8,"y":136},{"h":"N","x":1.85,"y":135},{"h":"N","x":1.93,"y":136},{"h":"N","x":1.98,"y":133},{"h":"N","x":2.05,"y":135},{"h":"N","x":2.12,"y":134},{"h":"N","x":2.2,"y":133},{"h":"N","x":1.82,"y":128},{"h":"N","x":1.88,"y":127},{"h":"N","x":1.95,"y":128},{"h":"N","x":2.02,"y":127},{"h":"N","x":2.09,"y":128},{"h":"N","x":2.16,"y":126},{"h":"N","x":2.2,"y":125},{"h":"N","x":1.79,"y":121},{"h":"N","x":1.84,"y":120},{"h":"N","x":1.9,"y":122},{"h":"N","x":1.97,"y":120},{"h":"N","x":2.04,"y":121},{"h":"N","x":2.12,"y":120},{"h":"N","x":2.18,"y":121},{"h":"N","x":1.81,"y":115},{"h":"N","x":1.86,"y":114},{"h":"N","x":1.92,"y":116},{"h":"N","x":1.99,"y":114},{"h":"N","x":2.06,"y":115},{"h":"N","x":2.13,"y":114},{"h":"N","x":2.21,"y":114},{"h":"N","x":1.8,"y":109},{"h":"N","x":1.83,"y":107},{"h":"N","x":1.89,"y":109},{"h":"N","x":1.94,"y":108},{"h":"N","x":2.01,"y":108},{"h":"N","x":2.08,"y":109},{"h":"N","x":2.15,"y":108},{"h":"N","x":2.2,"y":107},{"h":"N","x":1.78,"y":102},{"h":"N","x":1.85,"y":102},{"h":"N","x":1.91,"y":103},{"h":"N","x":1.97,"y":102},{"h":"N","x":2.03,"y":102},{"h":"N","x":2.1,"y":103},{"h":"N","x":2.17,"y":101},{"h":"N","x":2.22,"y":100},{"h":"N","x":1.8,"y":97},{"h":"N","x":1.87,"y":96},{"h":"N","x":1.93,"y":97},{"h":"N","x":2.0,"y":97},{"h":"N","x":2.06,"y":96},{"h":"N","x":2.13,"y":97},{"h":"N","x":2.19,"y":95},{"h":"N","x":1.78,"y":92},{"h":"N","x":1.83,"y":91},{"h":"N","x":1.89,"y":90},{"h":"N","x":1.96,"y":92},{"h":"N","x":2.03,"y":90},{"h":"N","x":2.09,"y":91},{"h":"N","x":2.16,"y":90},{"h":"N","x":2.22,"y":91},{"h":"N","x":1.8,"y":86},{"h":"N","x":1.85,"y":85},{"h":"N","x":1.92,"y":85},{"h":"N","x":1.98,"y":86},{"h":"N","x":2.05,"y":85},{"h":"N","x":2.12,"y":86},{"h":"N","x":2.19,"y":85},{"h":"N","x":1.78,"y":80},{"h":"N","x":1.83,"y":79},{"h":"N","x":1.89,"y":80},{"h":"N","x":1.95,"y":79},{"h":"N","x":2.01,"y":80},{"h":"N","x":2.08,"y":79},{"h":"N","x":2.15,"y":80},{"h":"N","x":2.22,"y":79},{"h":"N","x":1.8,"y":74},{"h":"N","x":1.87,"y":74},{"h":"N","x":1.93,"y":73},{"h":"N","x":2.0,"y":74},{"h":"N","x":2.06,"y":73},{"h":"N","x":2.13,"y":75},{"h":"N","x":2.2,"y":73},{"h":"N","x":1.83,"y":68},{"h":"N","x":1.9,"y":68},{"h":"N","x":1.96,"y":67},{"h":"N","x":2.03,"y":68},{"h":"N","x":2.1,"y":67},{"h":"N","x":2.19,"y":68},{"h":"N","x":1.87,"y":62},{"h":"N","x":1.94,"y":62},{"h":"N","x":2.0,"y":60},{"h":"N","x":2.07,"y":62},{"h":"N","x":2.15,"y":60},{"h":"N","x":2.09,"y":56},{"h":"N","x":1.98,"y":54},{"h":"N","x":2.12,"y":55},
{"h":"N","x":1.82,"y":124},{"h":"N","x":1.9,"y":118},{"h":"N","x":1.96,"y":124},{"h":"N","x":2.06,"y":124},{"h":"N","x":2.14,"y":117},{"h":"N","x":2.19,"y":117},{"h":"N","x":1.79,"y":112},{"h":"N","x":1.85,"y":111},{"h":"N","x":1.95,"y":112},{"h":"N","x":2.03,"y":111},{"h":"N","x":2.1,"y":112},{"h":"N","x":2.17,"y":111},{"h":"N","x":1.81,"y":105},{"h":"N","x":1.87,"y":105},{"h":"N","x":1.93,"y":105},{"h":"N","x":1.99,"y":105},{"h":"N","x":2.06,"y":105},{"h":"N","x":2.12,"y":105},{"h":"N","x":2.19,"y":104},{"h":"N","x":1.79,"y":99},{"h":"N","x":1.83,"y":99},{"h":"N","x":1.89,"y":99},{"h":"N","x":1.95,"y":100},{"h":"N","x":2.02,"y":99},{"h":"N","x":2.08,"y":100},{"h":"N","x":2.15,"y":99},{"h":"N","x":2.21,"y":97},{"h":"N","x":1.82,"y":94},{"h":"N","x":1.85,"y":93},{"h":"N","x":1.91,"y":94},{"h":"N","x":1.98,"y":94},{"h":"N","x":2.05,"y":93},{"h":"N","x":2.11,"y":94},{"h":"N","x":2.18,"y":93},{"h":"N","x":1.81,"y":89},{"h":"N","x":1.87,"y":88},{"h":"N","x":1.94,"y":88},{"h":"N","x":2.0,"y":89},{"h":"N","x":2.07,"y":88},{"h":"N","x":2.14,"y":88},{"h":"N","x":2.21,"y":87},{"h":"N","x":1.79,"y":83},{"h":"N","x":1.84,"y":82},{"h":"N","x":1.9,"y":83},{"h":"N","x":1.96,"y":83},{"h":"N","x":2.03,"y":83},{"h":"N","x":2.1,"y":83},{"h":"N","x":2.17,"y":83},{"h":"N","x":1.81,"y":77},{"h":"N","x":1.86,"y":77},{"h":"N","x":1.92,"y":77},{"h":"N","x":1.98,"y":77},{"h":"N","x":2.04,"y":77},{"h":"N","x":2.11,"y":77},{"h":"N","x":2.18,"y":76},{"h":"N","x":1.83,"y":71},{"h":"N","x":1.89,"y":71},{"h":"N","x":1.95,"y":71},{"h":"N","x":2.02,"y":71},{"h":"N","x":2.08,"y":71},{"h":"N","x":2.16,"y":70},{"h":"N","x":2.21,"y":71},{"h":"N","x":1.84,"y":133},{"h":"N","x":1.9,"y":131},{"h":"N","x":1.97,"y":138},{"h":"N","x":2.03,"y":132},{"h":"N","x":2.08,"y":137},{"h":"N","x":2.17,"y":132},{"h":"N","x":1.88,"y":160},{"h":"N","x":1.98,"y":160},{"h":"N","x":2.05,"y":167},{"h":"N","x":2.12,"y":160},{"h":"N","x":1.83,"y":170},{"h":"N","x":1.91,"y":175},{"h":"N","x":2.09,"y":174},{"h":"N","x":2.17,"y":176}],
"cviolin":[
{"g":"AF","y":128.4,"x":0.892,"x2":1.108},{"g":"AF","y":123,"x":0.882,"x2":1.118},{"g":"AF","y":115,"x":0.892,"x2":1.108},{"g":"AF","y":107,"x":0.813,"x2":1.187},{"g":"AF","y":99.5,"x":0.655,"x2":1.345},{"g":"AF","y":90,"x":0.517,"x2":1.483},{"g":"AF","y":83.7,"x":0.631,"x2":1.369},{"g":"AF","y":73,"x":0.828,"x2":1.172},{"g":"AF","y":62.6,"x":0.941,"x2":1.059},{"g":"AF","y":54.7,"x":0.985,"x2":1.015},{"g":"AF","y":46.8,"x":0.99,"x2":1.01},{"g":"AF","y":36,"x":0.961,"x2":1.039},{"g":"AF","y":29.5,"x":0.941,"x2":1.059},
{"g":"AS","y":250,"x":1.99,"x2":2.01},{"g":"AS","y":231,"x":1.985,"x2":2.015},{"g":"AS","y":204.7,"x":1.985,"x2":2.015},{"g":"AS","y":178.4,"x":1.96,"x2":2.04},{"g":"AS","y":165,"x":1.936,"x2":2.064},{"g":"AS","y":152,"x":1.862,"x2":2.138},{"g":"AS","y":139,"x":1.754,"x2":2.246},{"g":"AS","y":125.8,"x":1.631,"x2":2.369},{"g":"AS","y":112.6,"x":1.557,"x2":2.443},{"g":"AS","y":99.5,"x":1.532,"x2":2.468},{"g":"AS","y":89,"x":1.517,"x2":2.483},{"g":"AS","y":78.4,"x":1.567,"x2":2.433},{"g":"AS","y":68,"x":1.729,"x2":2.271},{"g":"AS","y":57.4,"x":1.877,"x2":2.123},{"g":"AS","y":46.8,"x":1.95,"x2":2.05},
{"g":"AU","y":226.8,"x":2.97,"x2":3.03},{"g":"AU","y":215,"x":2.95,"x2":3.05},{"g":"AU","y":204.7,"x":2.9,"x2":3.1},{"g":"AU","y":191.6,"x":2.78,"x2":3.22},{"g":"AU","y":178.4,"x":2.616,"x2":3.384},{"g":"AU","y":168,"x":2.547,"x2":3.453},{"g":"AU","y":157.4,"x":2.517,"x2":3.483},{"g":"AU","y":146.8,"x":2.581,"x2":3.419},{"g":"AU","y":133.7,"x":2.704,"x2":3.296},{"g":"AU","y":120.5,"x":2.754,"x2":3.246},{"g":"AU","y":104.7,"x":2.778,"x2":3.222},{"g":"AU","y":89,"x":2.764,"x2":3.236},{"g":"AU","y":73,"x":2.828,"x2":3.172},{"g":"AU","y":62.6,"x":2.9,"x2":3.1},{"g":"AU","y":51.6,"x":2.96,"x2":3.04},
{"g":"EU","y":239,"x":3.985,"x2":4.015},{"g":"EU","y":218,"x":3.975,"x2":4.025},{"g":"EU","y":204.7,"x":3.96,"x2":4.04},{"g":"EU","y":178.4,"x":3.91,"x2":4.09},{"g":"EU","y":152,"x":3.852,"x2":4.148},{"g":"EU","y":136.3,"x":3.793,"x2":4.207},{"g":"EU","y":125.8,"x":3.729,"x2":4.271},{"g":"EU","y":115,"x":3.606,"x2":4.394},{"g":"EU","y":100.8,"x":3.517,"x2":4.483},{"g":"EU","y":89,"x":3.606,"x2":4.394},{"g":"EU","y":78.4,"x":3.754,"x2":4.246},{"g":"EU","y":68,"x":3.852,"x2":4.148},{"g":"EU","y":57.4,"x":3.926,"x2":4.074},{"g":"EU","y":46.8,"x":3.975,"x2":4.025},
{"g":"NO","y":205.3,"x":4.94,"x2":5.06},{"g":"NO","y":197,"x":4.852,"x2":5.148},{"g":"NO","y":183.7,"x":4.695,"x2":5.305},{"g":"NO","y":173,"x":4.631,"x2":5.369},{"g":"NO","y":157.4,"x":4.567,"x2":5.433},{"g":"NO","y":131,"x":4.517,"x2":5.483},{"g":"NO","y":104.7,"x":4.581,"x2":5.419},{"g":"NO","y":78.4,"x":4.665,"x2":5.335},{"g":"NO","y":65,"x":4.803,"x2":5.197},{"g":"NO","y":52,"x":4.877,"x2":5.123},{"g":"NO","y":35.5,"x":4.96,"x2":5.04},
{"g":"SA","y":140.8,"x":5.892,"x2":6.108},{"g":"SA","y":131,"x":5.754,"x2":6.246},{"g":"SA","y":123,"x":5.581,"x2":6.419},{"g":"SA","y":113,"x":5.517,"x2":6.483},{"g":"SA","y":104.7,"x":5.581,"x2":6.419},{"g":"SA","y":94,"x":5.68,"x2":6.32},{"g":"SA","y":78.4,"x":5.754,"x2":6.246},{"g":"SA","y":68,"x":5.852,"x2":6.148},{"g":"SA","y":59.7,"x":5.911,"x2":6.089}],
"cbox":[{"x":0.9,"x2":1.1,"c":1,"y":83,"y2":98.2,"m":90,"lo":66.6,"hi":112.6},{"x":1.9,"x2":2.1,"c":2,"y":81.6,"y2":115,"m":96.6,"lo":47,"hi":250},{"x":2.9,"x2":3.1,"c":3,"y":110,"y2":166.3,"m":144.5,"lo":51.6,"hi":226.8},{"x":3.9,"x2":4.1,"c":4,"y":92.6,"y2":137.4,"m":106,"lo":47,"hi":239},{"x":4.9,"x2":5.1,"c":5,"y":88.7,"y2":154,"m":125,"lo":35.5,"hi":205},{"x":5.9,"x2":6.1,"c":6,"y":85.8,"y2":117.6,"m":106,"lo":59.7,"hi":140.8}],
"cpts":[
{"h":"AF","x":0.93,"y":130},{"h":"AF","x":1.02,"y":128},{"h":"AF","x":1.08,"y":124},{"h":"AF","x":0.78,"y":108},{"h":"AF","x":1.2,"y":107},{"h":"AF","x":0.86,"y":101},{"h":"AF","x":0.9,"y":95},{"h":"AF","x":1.0,"y":96},{"h":"AF","x":1.08,"y":99},{"h":"AF","x":0.8,"y":92},{"h":"AF","x":0.92,"y":90},{"h":"AF","x":1.15,"y":92},{"h":"AF","x":1.22,"y":90},{"h":"AF","x":0.85,"y":85},{"h":"AF","x":0.98,"y":86},{"h":"AF","x":1.1,"y":84},{"h":"AF","x":1.17,"y":87},{"h":"AF","x":0.88,"y":80},{"h":"AF","x":1.03,"y":78},{"h":"AF","x":0.96,"y":74},{"h":"AF","x":1.1,"y":74},{"h":"AF","x":1.07,"y":67},{"h":"AF","x":1.09,"y":30},
{"h":"AS","x":1.88,"y":250},{"h":"AS","x":2.03,"y":183},{"h":"AS","x":1.8,"y":165},{"h":"AS","x":2.01,"y":155},{"h":"AS","x":2.09,"y":150},{"h":"AS","x":1.88,"y":145},{"h":"AS","x":2.05,"y":140},{"h":"AS","x":1.78,"y":129},{"h":"AS","x":1.85,"y":127},{"h":"AS","x":1.95,"y":125},{"h":"AS","x":2.12,"y":122},{"h":"AS","x":2.2,"y":116},{"h":"AS","x":1.8,"y":118},{"h":"AS","x":1.89,"y":113},{"h":"AS","x":2.02,"y":113},{"h":"AS","x":2.16,"y":110},{"h":"AS","x":1.83,"y":107},{"h":"AS","x":1.93,"y":105},{"h":"AS","x":2.08,"y":104},{"h":"AS","x":2.2,"y":102},{"h":"AS","x":1.8,"y":99},{"h":"AS","x":1.88,"y":97},{"h":"AS","x":1.98,"y":98},{"h":"AS","x":2.13,"y":96},{"h":"AS","x":2.24,"y":97},{"h":"AS","x":1.82,"y":91},{"h":"AS","x":1.92,"y":90},{"h":"AS","x":2.03,"y":91},{"h":"AS","x":2.18,"y":88},{"h":"AS","x":1.78,"y":85},{"h":"AS","x":1.87,"y":83},{"h":"AS","x":2.0,"y":85},{"h":"AS","x":2.12,"y":84},{"h":"AS","x":2.22,"y":82},{"h":"AS","x":1.76,"y":78},{"h":"AS","x":1.84,"y":76},{"h":"AS","x":1.96,"y":78},{"h":"AS","x":2.08,"y":77},{"h":"AS","x":2.17,"y":75},{"h":"AS","x":1.88,"y":71},{"h":"AS","x":2.02,"y":70},{"h":"AS","x":2.12,"y":68},{"h":"AS","x":1.97,"y":63},{"h":"AS","x":2.13,"y":57},{"h":"AS","x":2.1,"y":53},{"h":"AS","x":1.98,"y":47},
{"h":"AU","x":3.14,"y":226},{"h":"AU","x":2.88,"y":218},{"h":"AU","x":3.15,"y":211},{"h":"AU","x":3.08,"y":213},{"h":"AU","x":2.8,"y":202},{"h":"AU","x":3.1,"y":204},{"h":"AU","x":3.18,"y":200},{"h":"AU","x":2.88,"y":193},{"h":"AU","x":3.23,"y":186},{"h":"AU","x":2.82,"y":188},{"h":"AU","x":3.0,"y":190},{"h":"AU","x":3.1,"y":186},{"h":"AU","x":2.85,"y":180},{"h":"AU","x":2.95,"y":182},{"h":"AU","x":3.18,"y":178},{"h":"AU","x":2.8,"y":173},{"h":"AU","x":2.9,"y":172},{"h":"AU","x":3.05,"y":175},{"h":"AU","x":3.14,"y":170},{"h":"AU","x":2.83,"y":165},{"h":"AU","x":2.95,"y":164},{"h":"AU","x":3.2,"y":163},{"h":"AU","x":2.8,"y":157},{"h":"AU","x":2.88,"y":155},{"h":"AU","x":3.03,"y":158},{"h":"AU","x":3.15,"y":155},{"h":"AU","x":2.83,"y":148},{"h":"AU","x":2.95,"y":148},{"h":"AU","x":3.08,"y":147},{"h":"AU","x":3.2,"y":146},{"h":"AU","x":2.8,"y":140},{"h":"AU","x":2.92,"y":139},{"h":"AU","x":3.02,"y":138},{"h":"AU","x":3.15,"y":138},{"h":"AU","x":2.85,"y":131},{"h":"AU","x":2.97,"y":130},{"h":"AU","x":3.1,"y":129},{"h":"AU","x":3.22,"y":128},{"h":"AU","x":2.8,"y":122},{"h":"AU","x":2.9,"y":120},{"h":"AU","x":3.04,"y":122},{"h":"AU","x":3.16,"y":119},{"h":"AU","x":2.83,"y":113},{"h":"AU","x":2.96,"y":112},{"h":"AU","x":3.1,"y":111},{"h":"AU","x":3.22,"y":112},{"h":"AU","x":2.8,"y":105},{"h":"AU","x":2.9,"y":103},{"h":"AU","x":3.02,"y":104},{"h":"AU","x":3.14,"y":103},{"h":"AU","x":2.78,"y":96},{"h":"AU","x":2.86,"y":95},{"h":"AU","x":2.98,"y":96},{"h":"AU","x":3.12,"y":95},{"h":"AU","x":3.2,"y":94},{"h":"AU","x":2.75,"y":88},{"h":"AU","x":2.85,"y":88},{"h":"AU","x":2.95,"y":87},{"h":"AU","x":3.1,"y":87},{"h":"AU","x":3.2,"y":86},{"h":"AU","x":2.8,"y":78},{"h":"AU","x":2.92,"y":80},{"h":"AU","x":3.05,"y":78},{"h":"AU","x":3.15,"y":78},{"h":"AU","x":2.88,"y":70},{"h":"AU","x":3.0,"y":71},{"h":"AU","x":3.18,"y":69},{"h":"AU","x":3.2,"y":65},{"h":"AU","x":2.78,"y":64},{"h":"AU","x":2.84,"y":58},{"h":"AU","x":2.87,"y":53},{"h":"AU","x":3.05,"y":62},{"h":"AU","x":3.0,"y":56},{"h":"AU","x":2.86,"y":178},{"h":"AU","x":3.02,"y":168},{"h":"AU","x":3.12,"y":162},{"h":"AU","x":2.9,"y":160},{"h":"AU","x":2.87,"y":143},{"h":"AU","x":3.13,"y":143},{"h":"AU","x":2.9,"y":134},{"h":"AU","x":3.05,"y":134},{"h":"AU","x":2.95,"y":125},{"h":"AU","x":3.18,"y":124},{"h":"AU","x":2.87,"y":116},{"h":"AU","x":3.03,"y":115},{"h":"AU","x":2.84,"y":108},{"h":"AU","x":3.17,"y":107},{"h":"AU","x":2.94,"y":100},{"h":"AU","x":3.06,"y":99},{"h":"AU","x":2.82,"y":92},{"h":"AU","x":3.04,"y":91},{"h":"AU","x":2.9,"y":83},{"h":"AU","x":3.14,"y":83},
{"h":"EU","x":4.15,"y":239},{"h":"EU","x":4.12,"y":234},{"h":"EU","x":3.85,"y":225},{"h":"EU","x":4.13,"y":226},{"h":"EU","x":3.85,"y":219},{"h":"EU","x":3.89,"y":214},{"h":"EU","x":3.83,"y":208},{"h":"EU","x":3.82,"y":202},{"h":"EU","x":3.95,"y":205},{"h":"EU","x":4.08,"y":205},{"h":"EU","x":4.2,"y":198},{"h":"EU","x":3.8,"y":195},{"h":"EU","x":3.9,"y":196},{"h":"EU","x":4.05,"y":194},{"h":"EU","x":4.15,"y":190},{"h":"EU","x":4.2,"y":183},{"h":"EU","x":3.84,"y":186},{"h":"EU","x":3.95,"y":184},{"h":"EU","x":4.08,"y":182},{"h":"EU","x":3.8,"y":177},{"h":"EU","x":3.88,"y":176},{"h":"EU","x":4.0,"y":176},{"h":"EU","x":4.13,"y":174},{"h":"EU","x":4.2,"y":172},{"h":"EU","x":3.84,"y":168},{"h":"EU","x":3.94,"y":166},{"h":"EU","x":4.07,"y":167},{"h":"EU","x":4.17,"y":165},{"h":"EU","x":3.81,"y":158},{"h":"EU","x":3.9,"y":157},{"h":"EU","x":4.02,"y":158},{"h":"EU","x":4.12,"y":156},{"h":"EU","x":4.2,"y":152},{"h":"EU","x":3.83,"y":150},{"h":"EU","x":3.95,"y":149},{"h":"EU","x":4.08,"y":148},{"h":"EU","x":4.2,"y":145},{"h":"EU","x":3.8,"y":142},{"h":"EU","x":3.89,"y":140},{"h":"EU","x":4.01,"y":141},{"h":"EU","x":4.13,"y":140},{"h":"EU","x":3.84,"y":133},{"h":"EU","x":3.95,"y":132},{"h":"EU","x":4.07,"y":131},{"h":"EU","x":4.18,"y":132},{"h":"EU","x":3.81,"y":125},{"h":"EU","x":3.9,"y":124},{"h":"EU","x":4.02,"y":124},{"h":"EU","x":4.14,"y":123},{"h":"EU","x":3.84,"y":117},{"h":"EU","x":3.96,"y":116},{"h":"EU","x":4.09,"y":116},{"h":"EU","x":4.2,"y":115},{"h":"EU","x":3.8,"y":109},{"h":"EU","x":3.9,"y":108},{"h":"EU","x":4.03,"y":108},{"h":"EU","x":4.14,"y":107},{"h":"EU","x":3.84,"y":102},{"h":"EU","x":3.96,"y":100},{"h":"EU","x":4.08,"y":101},{"h":"EU","x":4.2,"y":100},{"h":"EU","x":3.8,"y":94},{"h":"EU","x":3.9,"y":93},{"h":"EU","x":4.02,"y":94},{"h":"EU","x":4.14,"y":93},{"h":"EU","x":3.84,"y":87},{"h":"EU","x":3.96,"y":86},{"h":"EU","x":4.08,"y":86},{"h":"EU","x":4.2,"y":85},{"h":"EU","x":3.8,"y":79},{"h":"EU","x":3.9,"y":78},{"h":"EU","x":4.03,"y":79},{"h":"EU","x":4.14,"y":78},{"h":"EU","x":3.83,"y":71},{"h":"EU","x":3.95,"y":70},{"h":"EU","x":4.08,"y":70},{"h":"EU","x":4.2,"y":72},{"h":"EU","x":3.79,"y":65},{"h":"EU","x":3.9,"y":63},{"h":"EU","x":4.02,"y":64},{"h":"EU","x":4.14,"y":62},{"h":"EU","x":3.84,"y":57},{"h":"EU","x":3.97,"y":56},{"h":"EU","x":4.15,"y":55},{"h":"EU","x":3.8,"y":54},{"h":"EU","x":3.85,"y":48},{"h":"EU","x":3.89,"y":47},{"h":"EU","x":4.16,"y":53},{"h":"EU","x":3.93,"y":190},{"h":"EU","x":4.1,"y":190},{"h":"EU","x":3.86,"y":172},{"h":"EU","x":3.98,"y":160},{"h":"EU","x":4.16,"y":160},{"h":"EU","x":3.87,"y":146},{"h":"EU","x":4.0,"y":136},{"h":"EU","x":4.15,"y":136},{"h":"EU","x":3.87,"y":128},{"h":"EU","x":4.06,"y":120},{"h":"EU","x":3.86,"y":112},{"h":"EU","x":4.0,"y":112},{"h":"EU","x":4.17,"y":111},{"h":"EU","x":3.9,"y":104},{"h":"EU","x":4.12,"y":104},{"h":"EU","x":3.86,"y":97},{"h":"EU","x":4.05,"y":97},{"h":"EU","x":3.92,"y":89},{"h":"EU","x":4.13,"y":89},{"h":"EU","x":3.86,"y":82},{"h":"EU","x":4.0,"y":83},{"h":"EU","x":4.18,"y":75},{"h":"EU","x":3.87,"y":75},
{"h":"NO","x":4.98,"y":206},{"h":"NO","x":4.9,"y":197},{"h":"NO","x":4.96,"y":190},{"h":"NO","x":5.1,"y":190},{"h":"NO","x":4.87,"y":184},{"h":"NO","x":5.02,"y":183},{"h":"NO","x":5.17,"y":182},{"h":"NO","x":4.8,"y":176},{"h":"NO","x":4.93,"y":175},{"h":"NO","x":5.07,"y":175},{"h":"NO","x":5.2,"y":174},{"h":"NO","x":4.86,"y":167},{"h":"NO","x":5.0,"y":167},{"h":"NO","x":5.14,"y":166},{"h":"NO","x":4.78,"y":160},{"h":"NO","x":4.9,"y":158},{"h":"NO","x":5.05,"y":158},{"h":"NO","x":5.2,"y":158},{"h":"NO","x":4.82,"y":151},{"h":"NO","x":4.96,"y":150},{"h":"NO","x":5.12,"y":150},{"h":"NO","x":4.76,"y":143},{"h":"NO","x":4.88,"y":142},{"h":"NO","x":5.03,"y":143},{"h":"NO","x":5.18,"y":142},{"h":"NO","x":4.82,"y":134},{"h":"NO","x":4.96,"y":134},{"h":"NO","x":5.1,"y":134},{"h":"NO","x":4.76,"y":126},{"h":"NO","x":4.9,"y":126},{"h":"NO","x":5.05,"y":125},{"h":"NO","x":5.2,"y":126},{"h":"NO","x":4.83,"y":117},{"h":"NO","x":4.97,"y":117},{"h":"NO","x":5.13,"y":117},{"h":"NO","x":4.76,"y":108},{"h":"NO","x":4.9,"y":109},{"h":"NO","x":5.05,"y":108},{"h":"NO","x":5.2,"y":108},{"h":"NO","x":4.82,"y":100},{"h":"NO","x":4.97,"y":100},{"h":"NO","x":5.12,"y":100},{"h":"NO","x":4.75,"y":92},{"h":"NO","x":4.88,"y":91},{"h":"NO","x":5.03,"y":92},{"h":"NO","x":5.18,"y":91},{"h":"NO","x":4.78,"y":84},{"h":"NO","x":4.93,"y":83},{"h":"NO","x":5.1,"y":83},{"h":"NO","x":5.22,"y":82},{"h":"NO","x":4.82,"y":75},{"h":"NO","x":4.97,"y":75},{"h":"NO","x":5.13,"y":75},{"h":"NO","x":4.86,"y":67},{"h":"NO","x":5.02,"y":67},{"h":"NO","x":5.16,"y":67},{"h":"NO","x":4.78,"y":57},{"h":"NO","x":4.92,"y":58},{"h":"NO","x":5.1,"y":59},{"h":"NO","x":4.8,"y":52},{"h":"NO","x":5.15,"y":56},{"h":"NO","x":4.86,"y":36},{"h":"NO","x":5.17,"y":37},{"h":"NO","x":5.05,"y":170},{"h":"NO","x":4.84,"y":155},{"h":"NO","x":5.08,"y":146},{"h":"NO","x":4.94,"y":138},{"h":"NO","x":5.16,"y":130},{"h":"NO","x":4.85,"y":121},{"h":"NO","x":5.06,"y":112},{"h":"NO","x":4.84,"y":104},{"h":"NO","x":5.16,"y":96},{"h":"NO","x":4.94,"y":88},{"h":"NO","x":5.06,"y":78},{"h":"NO","x":4.88,"y":80},
{"h":"SA","x":5.85,"y":138},{"h":"SA","x":6.13,"y":140},{"h":"SA","x":5.95,"y":126},{"h":"SA","x":6.1,"y":128},{"h":"SA","x":6.2,"y":126},{"h":"SA","x":5.82,"y":118},{"h":"SA","x":5.92,"y":115},{"h":"SA","x":6.05,"y":118},{"h":"SA","x":6.15,"y":113},{"h":"SA","x":5.8,"y":108},{"h":"SA","x":5.95,"y":106},{"h":"SA","x":6.08,"y":106},{"h":"SA","x":6.18,"y":104},{"h":"SA","x":5.85,"y":98},{"h":"SA","x":6.0,"y":97},{"h":"SA","x":6.12,"y":96},{"h":"SA","x":5.9,"y":89},{"h":"SA","x":6.05,"y":88},{"h":"SA","x":6.2,"y":90},{"h":"SA","x":5.84,"y":82},{"h":"SA","x":5.96,"y":80},{"h":"SA","x":6.1,"y":80},{"h":"SA","x":5.92,"y":73},{"h":"SA","x":6.08,"y":71},{"h":"SA","x":5.87,"y":65},{"h":"SA","x":6.1,"y":65},{"h":"SA","x":5.9,"y":60},{"h":"SA","x":6.1,"y":60}]
},
"hconcat":[
{"width":1854,"height":1720,"resolve":{"scale":{"size":"independent","fill":"independent"}},"encoding":{"x":{"field":"x","type":"quantitative","axis":null,"scale":{"domain":[0,1854],"nice":false,"zero":false}},"y":{"field":"y","type":"quantitative","axis":null,"scale":{"domain":[1720,0],"nice":false,"zero":false}}},
"layer":[
{"data":{"name":"outer"},"mark":{"type":"point","shape":"circle","filled":false,"stroke":"#6b6b6b","strokeWidth":1.3,"opacity":1},"encoding":{"size":{"field":"d","type":"quantitative","legend":null,"scale":{"type":"pow","exponent":2,"domain":[0,1000],"range":[0,1000000]}}}},
{"data":{"name":"circles"},"mark":{"type":"point","shape":"circle","filled":true,"stroke":"#666666","strokeWidth":1.4,"opacity":1},"encoding":{"size":{"field":"d","type":"quantitative","legend":null,"scale":{"type":"pow","exponent":2,"domain":[0,1000],"range":[0,1000000]}},"fill":{"field":"g","type":"nominal","legend":null,"scale":{"domain":["M","B","T","G","P","Q","L","O","V","U","F","C","R","K","S","A","E"],"range":["#f9e4b6","#d66253","#f3b56c","#f8f1c6","#9bafc3","#d66253","#f2b48e","#e9a37f","#c2d8c4","#e78b71","#f8d7a1","#f3b46a","#7393bf","#c64f50","#ee9497","#a2c8de","#ec6466"]}}}},
{"data":{"name":"genes"},"mark":{"type":"text","fontStyle":"italic","fontSize":36,"color":"#222222","font":"Liberation Sans"},"encoding":{"text":{"field":"t"}}},
{"data":{"name":"classes"},"mark":{"type":"text","fontStyle":"italic","color":"#000000","font":"Liberation Sans"},"encoding":{"text":{"field":"t"},"size":{"field":"k","type":"ordinal","legend":null,"scale":{"type":"ordinal","domain":["a","b","c","d","e","f"],"range":[45,38,28,23.5,14,10]}}}},
{"data":{"name":"letters"},"mark":{"type":"text","fontWeight":"bold","fontSize":48,"color":"#000000","font":"Liberation Sans"},"encoding":{"text":{"field":"t"}}}
]},
{"bounds":"flush","spacing":132,"vconcat":[
{"width":594,"height":43,"data":{"values":[{"a":1}]},"mark":{"type":"text","text":" "},"encoding":{}},
{"width":592,"height":515,"view":{"stroke":"#000000","strokeWidth":4},"resolve":{"scale":{"fill":"independent"}},
"encoding":{"x":{"field":"x","type":"quantitative","scale":{"domain":[0.4,2.6],"nice":false,"zero":false},"axis":{"values":[1,2],"grid":false,"domain":false,"title":"Habitats","titleFontWeight":"normal","titleFontSize":40,"titleColor":"#000","titleBaseline":"middle","titleX":252,"titleY":74,"labelExpr":"datum.value==1?'Agricultural':'Non−agricultural'","labelFontSize":38,"labelColor":"#000","labelFlush":false,"labelOverlap":false,"labelBound":false,"labelLimit":800,"labelPadding":1,"labelOffset":{"condition":{"test":"datum.value==1","value":-27},"value":-11},"tickColor":"#000","tickWidth":2.5,"tickSize":7}},
"y":{"field":"y","type":"quantitative","scale":{"domain":[19,260.3],"nice":false,"zero":false},"axis":{"values":[50,100,150,200,250],"grid":false,"domain":false,"title":"Normal abundance (ppm)","titleFontWeight":"normal","titleFontSize":40,"titleColor":"#000","titleBaseline":"middle","titleX":-101,"labelFontSize":38,"labelColor":"#000","labelPadding":2,"tickColor":"#000","tickWidth":2.5,"tickSize":7}}},
"layer":[
{"data":{"name":"bviolin"},"mark":{"type":"area","orient":"horizontal","interpolate":"monotone","stroke":"#333333","strokeWidth":2,"opacity":1},"encoding":{"x2":{"field":"x2"},"fill":{"field":"g","legend":null,"scale":{"domain":["A","N"],"range":["#bccae3","#f3bcae"]}}}},
{"data":{"name":"bpts"},"mark":{"type":"point","shape":"circle","filled":true,"size":289,"fillOpacity":0.36,"stroke":"#444444","strokeOpacity":0.5,"strokeWidth":1.5,"opacity":1},"encoding":{"fill":{"field":"h","legend":null,"scale":{"domain":["A","N"],"range":["#6b92c9","#d65039"]}}}},
{"data":{"name":"bbox"},"mark":{"type":"rule","stroke":"#444444","strokeWidth":2},"encoding":{"x":{"field":"c","type":"quantitative"},"y":{"field":"lo","type":"quantitative"},"y2":{"field":"hi"}}},
{"data":{"name":"bbox"},"mark":{"type":"rect","fillOpacity":0,"stroke":"#444444","strokeWidth":2.2},"encoding":{"x2":{"field":"x2"},"y2":{"field":"y2"}}},
{"data":{"name":"bbox"},"mark":{"type":"rule","stroke":"#444444","strokeWidth":4},"encoding":{"x2":{"field":"x2"},"y":{"field":"m","type":"quantitative"}}},
{"data":{"values":[{"x":1.526,"y":245,"t":"**"}]},"mark":{"type":"text","fontSize":49,"color":"#000"},"encoding":{"text":{"field":"t"}}}
]},
{"width":594,"height":538,"view":{"stroke":"#000000","strokeWidth":4},"resolve":{"scale":{"fill":"independent"}},
"encoding":{"x":{"field":"x","type":"quantitative","scale":{"domain":[0.4,6.6],"nice":false,"zero":false},"axis":{"values":[1,2,3,4,5,6],"grid":false,"domain":false,"title":"Continents","titleFontWeight":"normal","titleFontSize":40,"titleColor":"#000","titleBaseline":"middle","titleY":299,"labelExpr":"['Africa','Asia','Australia','Europe','North America','South America'][datum.value-1]","labelFontSize":40,"labelColor":"#000","labelAngle":270,"labelAlign":"center","labelBaseline":"middle","labelFlush":false,"labelOverlap":false,"labelBound":false,"labelLimit":800,"labelPadding":139,"labelOffset":18,"tickColor":"#000","tickWidth":2.5,"tickSize":7}},
"y":{"field":"y","type":"quantitative","scale":{"domain":[19,260.8],"nice":false,"zero":false},"axis":{"values":[50,100,150,200,250],"grid":false,"domain":false,"title":"Normal abundance (ppm)","titleFontWeight":"normal","titleFontSize":40,"titleColor":"#000","titleBaseline":"middle","titleX":-105,"labelFontSize":38,"labelColor":"#000","labelPadding":2,"tickColor":"#000","tickWidth":2.5,"tickSize":7}}},
"layer":[
{"data":{"name":"cviolin"},"mark":{"type":"area","orient":"horizontal","interpolate":"monotone","stroke":"#333333","strokeWidth":2,"opacity":1},"encoding":{"x2":{"field":"x2"},"fill":{"field":"g","legend":null,"scale":{"domain":["AF","AS","AU","EU","NO","SA"],"range":["#86a5d4","#cfd6d6","#f6bd9e","#e4ebd8","#fdf9d9","#e58373"]}}}},
{"data":{"name":"cpts"},"mark":{"type":"point","shape":"circle","filled":true,"size":361,"fillOpacity":0.25,"stroke":"#444444","strokeOpacity":0.4,"strokeWidth":1.5,"opacity":1},"encoding":{"fill":{"field":"h","legend":null,"scale":{"domain":["AF","AS","AU","EU","NO","SA"],"range":["#6b92c9","#b9c4c4","#ef9a76","#cfdabb","#f6eeb6","#db5d48"]}}}},
{"data":{"name":"cbox"},"mark":{"type":"rule","stroke":"#444444","strokeWidth":2},"encoding":{"x":{"field":"c","type":"quantitative"},"y":{"field":"lo","type":"quantitative"},"y2":{"field":"hi"}}},
{"data":{"name":"cbox"},"mark":{"type":"rect","fillOpacity":0,"stroke":"#444444","strokeWidth":2.2},"encoding":{"x2":{"field":"x2"},"y2":{"field":"y2"}}},
{"data":{"name":"cbox"},"mark":{"type":"rule","stroke":"#444444","strokeWidth":4},"encoding":{"x2":{"field":"x2"},"y":{"field":"m","type":"quantitative"}}},
{"data":{"values":[{"x":3.276,"y":248.4,"t":"****"}]},"mark":{"type":"text","fontSize":49,"color":"#000"},"encoding":{"text":{"field":"t"}}}
]}
]}
]}
